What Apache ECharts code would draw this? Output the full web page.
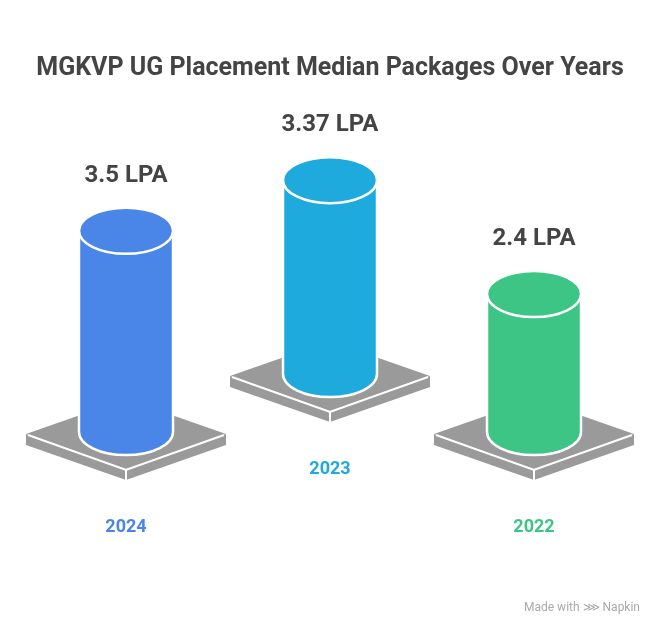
<!DOCTYPE html>
<html>
<head>
<meta charset="utf-8">
<script src="https://cdn.jsdelivr.net/npm/echarts@6/dist/echarts.min.js"></script>
<style>
html, body { margin: 0; padding: 0; background: #fff; }
#container { width: 660px; height: 638px; }
</style>
</head>
<body>
<div id="container"></div>
<script>
var dom = document.getElementById("container");
var myChart = echarts.init(dom);

var years = ["2024", "2023", "2022"];
var packages = [3.5, 3.37, 2.4];
var valueLabels = ["3.5 LPA", "3.37 LPA", "2.4 LPA"];
var colors = ["#4a86e8", "#1eaadc", "#3cc584"];

// middle cylinder sits higher on the page (pixels)
var lift = [0, 58, 0];

var rx = 47;
var ry = 23;

function renderItem(params, api) {
    var i = params.dataIndex;
    var base = api.coord([api.value(0), 0]);
    var top = api.coord([api.value(0), api.value(1)]);
    var cx = base[0];
    var by = base[1] - lift[i];
    var ty = top[1] - lift[i];
    var color = colors[i];

    // platform
    var pw = 100, ph = 35, th = 11, py = by + 2;
    var platform = [
        {
            type: 'polygon',
            shape: { points: [[cx - pw, py], [cx, py + ph], [cx, py + ph + th], [cx - pw, py + th]] },
            style: { fill: '#9a9a9a' }
        },
        {
            type: 'polygon',
            shape: { points: [[cx + pw, py], [cx, py + ph], [cx, py + ph + th], [cx + pw, py + th]] },
            style: { fill: '#9a9a9a' }
        },
        {
            type: 'polygon',
            shape: { points: [[cx - pw, py], [cx, py - ph], [cx + pw, py], [cx, py + ph]] },
            style: { fill: '#9a9a9a' }
        },
        {
            type: 'polyline',
            shape: { points: [[cx - pw + 2, py + 1], [cx, py + ph + 1], [cx + pw - 2, py + 1]] },
            style: { stroke: '#fff', lineWidth: 2, fill: null }
        },
        {
            type: 'line',
            shape: { x1: cx, y1: py + ph + 1, x2: cx, y2: py + ph + th },
            style: { stroke: '#fff', lineWidth: 2 }
        }
    ];

    // cylinder body: sides + bottom front arc
    var body = 'M' + (cx - rx) + ' ' + ty +
        ' L' + (cx - rx) + ' ' + by +
        ' A' + rx + ' ' + ry + ' 0 0 0 ' + (cx + rx) + ' ' + by +
        ' L' + (cx + rx) + ' ' + ty +
        ' A' + rx + ' ' + ry + ' 0 0 0 ' + (cx - rx) + ' ' + ty + ' Z';

    var cyl = [
        {
            type: 'path',
            shape: { pathData: body },
            style: { fill: color, stroke: '#fff', lineWidth: 2.5 }
        },
        {
            type: 'ellipse',
            shape: { cx: cx, cy: ty, rx: rx, ry: ry },
            style: { fill: color, stroke: '#fff', lineWidth: 2.5 }
        },
        {
            type: 'text',
            style: {
                x: cx, y: ty - 55, text: valueLabels[i],
                align: 'center', verticalAlign: 'middle',
                font: 'bold 24px Roboto', fill: '#444444'
            }
        },
        {
            type: 'text',
            style: {
                x: cx, y: by + 95, text: years[i],
                align: 'center', verticalAlign: 'middle',
                font: 'bold 18px Roboto', fill: color
            }
        }
    ];

    return { type: 'group', children: platform.concat(cyl) };
}

var seriesData = packages.map(function (v, i) {
    return [i, v];
});

var option = {
    animation: false,
    title: {
        text: 'MGKVP UG Placement Median Packages Over Years',
        left: 'center',
        top: 51,
        textStyle: {
            fontFamily: 'Roboto',
            fontWeight: 'bold',
            fontSize: 25,
            color: '#444444'
        }
    },
    grid: {
        left: 24,
        right: 24,
        bottom: 206,
        height: 345
    },
    xAxis: {
        type: 'category',
        data: years,
        show: false
    },
    yAxis: {
        type: 'value',
        min: 0,
        max: 6,
        show: false
    },
    series: [{
        type: 'custom',
        renderItem: renderItem,
        data: seriesData
    }],
    graphic: {
        elements: [{
            type: 'text',
            right: 20,
            top: 602,
            style: {
                text: 'Made with \u22d9 Napkin',
                font: '12px Roboto',
                fill: '#aaaaaa'
            }
        }]
    }
};

myChart.setOption(option);
</script>
</body>
</html>
